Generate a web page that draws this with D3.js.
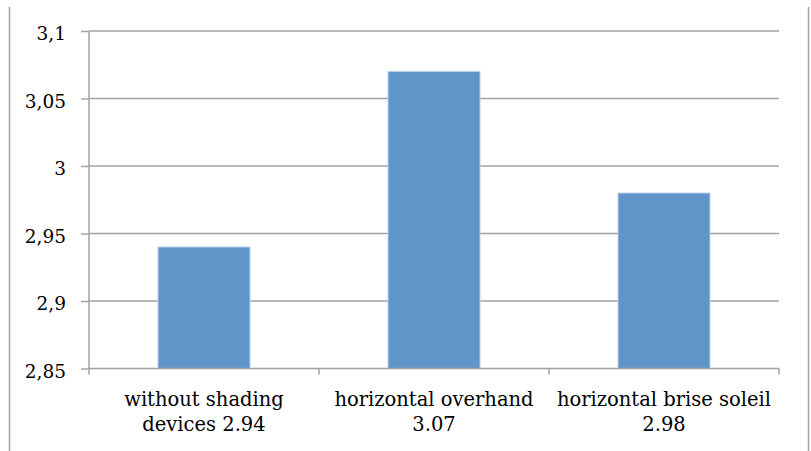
<!DOCTYPE html>
<html>
<head>
<meta charset="utf-8">
<script src="https://cdn.jsdelivr.net/npm/d3@7"></script>
<style>
  html, body { margin: 0; padding: 0; background: #fff; }
  svg { display: block; }
  text { font-family: "DejaVu Serif", serif; }
</style>
</head>
<body>
<svg id="chart" width="811" height="451"></svg>
<script>
// Average values per shading configuration
const categories = ["without shading devices", "horizontal overhand", "horizontal brise soleil"];
const values = [2.94, 3.07, 2.98];
// Category labels, split over two lines
const labelLines = [
  ["without shading", "devices 2.94"],
  ["horizontal overhand", "3.07"],
  ["horizontal brise soleil", "2.98"]
];
const yTicks = [2.85, 2.9, 2.95, 3.0, 3.05, 3.1];

const svg = d3.select("#chart");
const W = 811, H = 451;
const plotLeft = 89, plotRight = 779, plotTop = 31, plotBottom = 368.5;
const grid = "#a3a3a3";

// Outer frame edges
svg.append("line").attr("x1", 9.5).attr("x2", 9.5).attr("y1", 7).attr("y2", H)
  .attr("stroke", grid).attr("stroke-width", 1.5);
svg.append("line").attr("x1", 808.5).attr("x2", 808.5).attr("y1", 7).attr("y2", H)
  .attr("stroke", grid).attr("stroke-width", 1.5);

const x = d3.scaleBand().domain(categories).range([plotLeft, plotRight])
  .paddingInner(0.6).paddingOuter(0.3);
const y = d3.scaleLinear().domain([2.85, 3.1]).range([plotBottom, plotTop]);

const fmt = v => d3.format(".2~f")(v).replace(".", ",");

// Horizontal gridlines
svg.append("g").selectAll("line").data(yTicks.slice(1)).join("line")
  .attr("x1", plotLeft).attr("x2", plotRight)
  .attr("y1", d => y(d)).attr("y2", d => y(d))
  .attr("stroke", grid).attr("stroke-width", 1.5);

// Y axis
const yAxis = svg.append("g").attr("transform", `translate(${plotLeft},0)`)
  .call(d3.axisLeft(y).tickValues(yTicks).tickFormat(fmt).tickSize(8).tickPadding(15));
yAxis.attr("font-family", null);
yAxis.select(".domain").attr("stroke", grid).attr("stroke-width", 1.5)
  .attr("d", `M0,${plotBottom}V${plotTop}`);
yAxis.selectAll(".tick line").attr("stroke", grid).attr("stroke-width", 1.5);
yAxis.selectAll(".tick text").attr("font-size", 18.5).attr("fill", "#000")
  .attr("dy", "0.48em");

// Bars
svg.append("g").selectAll("rect").data(values).join("rect")
  .attr("x", (d, i) => x(categories[i]))
  .attr("width", x.bandwidth())
  .attr("y", d => y(d))
  .attr("height", d => y(2.85) - y(d))
  .attr("fill", "#5f95c9")
  .attr("stroke", "#b7cfea").attr("stroke-width", 1);

// X axis line with category boundary ticks
svg.append("line").attr("x1", plotLeft).attr("x2", plotRight)
  .attr("y1", plotBottom).attr("y2", plotBottom)
  .attr("stroke", grid).attr("stroke-width", 1.5);
const bounds = d3.range(categories.length + 1).map(i => plotLeft + i * x.step());
svg.append("g").selectAll("line").data(bounds).join("line")
  .attr("x1", d => d).attr("x2", d => d)
  .attr("y1", plotBottom).attr("y2", plotBottom + 6)
  .attr("stroke", grid).attr("stroke-width", 1.5);

// Category labels
const lab = svg.append("g").selectAll("text").data(labelLines).join("text")
  .attr("text-anchor", "middle")
  .attr("font-size", 19.5)
  .attr("fill", "#000")
  .attr("x", (d, i) => x(categories[i]) + x.bandwidth() / 2)
  .attr("y", 406);
lab.selectAll("tspan").data(d => d).join("tspan")
  .attr("x", function () { return d3.select(this.parentNode).attr("x"); })
  .attr("dy", (d, i) => i === 0 ? 0 : 25)
  .text(d => d);
</script>
</body>
</html>
